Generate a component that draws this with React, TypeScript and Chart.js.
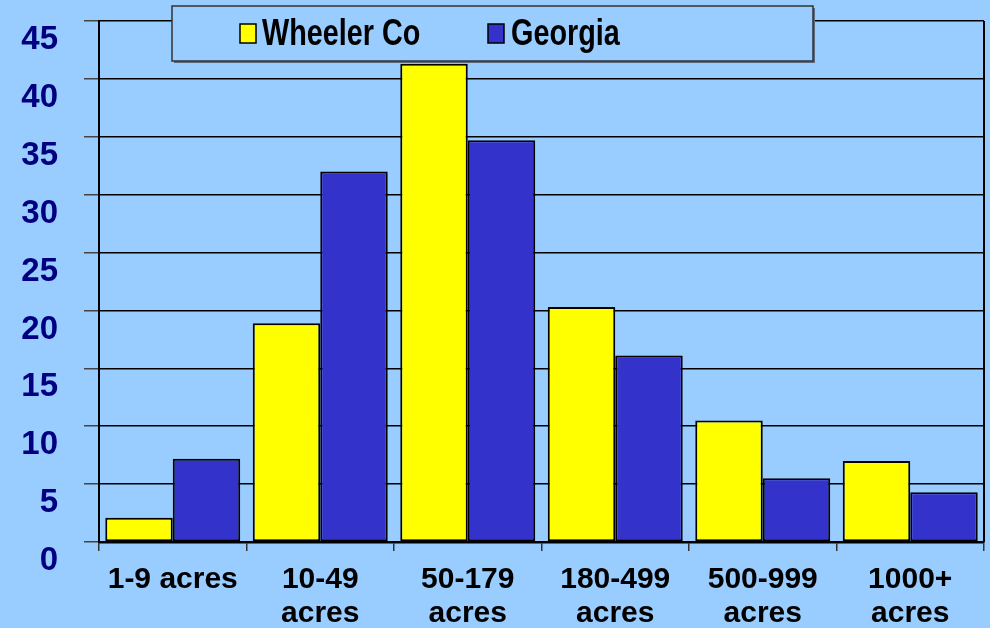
import React, { useEffect, useRef } from "react";
import { Chart, registerables } from "chart.js";

Chart.register(...registerables);

const categories: (string | string[])[] = [
  "1-9 acres",
  ["10-49", "acres"],
  ["50-179", "acres"],
  ["180-499", "acres"],
  ["500-999", "acres"],
  ["1000+", "acres"],
];
const wheelerValues = [2.1, 18.9, 41.3, 20.3, 10.5, 7.0];
const georgiaValues = [7.2, 32.0, 34.7, 16.1, 5.5, 4.3];
const seriesNames = ["Wheeler Co", "Georgia"];
const seriesColors = ["#FFFF00", "#3333CC"];
const yMin = 0;
const yMax = 45;
const yStep = 5;

const BG = "#99CCFF";

const overlayPlugin = {
  id: "overlay",
  afterDraw(chart: any) {
    const { ctx, chartArea } = chart;
    ctx.save();
    ctx.strokeStyle = "#000";
    ctx.lineWidth = 2;
    ctx.beginPath();
    ctx.moveTo(chartArea.right, chartArea.top);
    ctx.lineTo(chartArea.right, chartArea.bottom);
    ctx.stroke();

    const bx = 172, by = 6, bw = 641, bh = 55;
    ctx.fillStyle = "#5A6A80";
    ctx.fillRect(bx + 2, by + 2, bw, bh);
    ctx.fillStyle = BG;
    ctx.fillRect(bx, by, bw, bh);
    ctx.strokeStyle = "#333";
    ctx.lineWidth = 1.5;
    ctx.strokeRect(bx, by, bw, bh);

    const items = [
      { sx: 240, tx: 262 },
      { sx: 488, tx: 511 },
    ];
    chart.data.datasets.forEach((ds: any, i: number) => {
      const it = items[i];
      ctx.fillStyle = ds.backgroundColor;
      ctx.fillRect(it.sx, 24, 16, 19);
      ctx.strokeStyle = "#000";
      ctx.lineWidth = 1.5;
      ctx.strokeRect(it.sx, 24, 16, 19);
      ctx.save();
      ctx.translate(it.tx, 45);
      ctx.scale(0.8, 1);
      ctx.fillStyle = "#000";
      ctx.font = "bold 36px 'Liberation Sans', Arial, sans-serif";
      ctx.textBaseline = "alphabetic";
      ctx.textAlign = "left";
      ctx.fillText(ds.label, 0, 0);
      ctx.restore();
    });
    ctx.restore();
  },
};

export default function App() {
  const ref = useRef<HTMLCanvasElement | null>(null);

  useEffect(() => {
    document.body.style.margin = "0";
    document.body.style.background = BG;
    const canvas = ref.current;
    if (!canvas) return;
    const chart = new Chart(canvas, {
      type: "bar",
      data: {
        labels: categories,
        datasets: [
          {
            label: seriesNames[0],
            data: wheelerValues,
            backgroundColor: seriesColors[0],
            borderColor: "#000",
            borderWidth: 2,
            borderSkipped: false,
          },
          {
            label: seriesNames[1],
            data: georgiaValues,
            backgroundColor: seriesColors[1],
            borderColor: "#000",
            borderWidth: 2,
            borderSkipped: false,
          },
        ],
      },
      options: {
        responsive: false,
        animation: false,
        devicePixelRatio: 1,
        layout: { padding: { top: 21, right: 6, left: 0, bottom: 0 } },
        datasets: {
          bar: { categoryPercentage: 0.915, barPercentage: 1.0 },
        },
        plugins: {
          legend: { display: false },
          tooltip: { enabled: false },
        },
        scales: {
          x: {
            grid: {
              display: true,
              drawOnChartArea: false,
              drawTicks: true,
              offset: true,
              tickLength: 9,
              tickColor: "#333",
              lineWidth: 1.5,
            },
            border: { display: true, color: "#000", width: 2.5 },
            ticks: {
              color: "#000",
              padding: 11,
              maxRotation: 0,
              autoSkip: false,
              font: {
                family: "'Liberation Sans', Arial, sans-serif",
                size: 30,
                weight: "bold",
                lineHeight: 1.16,
              },
            },
            afterFit(scale: any) {
              scale.height = 86;
              scale.paddingLeft = 0;
              scale.paddingRight = 0;
            },
          },
          y: {
            min: yMin,
            max: yMax,
            ticks: {
              stepSize: yStep,
              color: "#000080",
              padding: 26,
              labelOffset: 19,
              font: {
                family: "'Liberation Sans', Arial, sans-serif",
                size: 33,
                weight: "bold",
              },
            },
            grid: {
              color: "#000",
              lineWidth: 1.5,
              tickLength: 15,
              tickColor: "#444",
            },
            border: { display: true, color: "#000", width: 2 },
            afterFit(scale: any) {
              scale.width = 99;
              scale.paddingTop = 0;
              scale.paddingBottom = 0;
            },
          },
        },
      },
      plugins: [overlayPlugin],
    });
    return () => chart.destroy();
  }, []);

  return (
    <div style={{ width: 990, height: 628, background: BG }}>
      <canvas ref={ref} width={990} height={628} style={{ display: "block" }} />
    </div>
  );
}
